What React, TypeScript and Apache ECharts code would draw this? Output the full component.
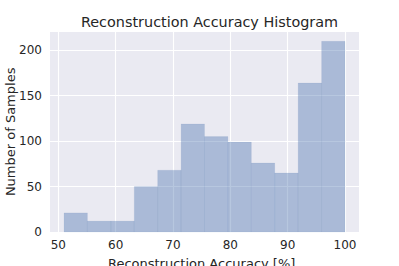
import React, { useEffect, useRef } from "react";
import * as echarts from "echarts";

const binEdges = [51, 55.08, 59.17, 63.25, 67.33, 71.42, 75.5, 79.58, 83.67, 87.75, 91.83, 95.92, 100];
const counts = [21, 12, 12, 50, 68, 119, 105, 99, 76, 65, 164, 210];
const xTicks = [50, 60, 70, 80, 90, 100];
const yTicks = [0, 50, 100, 150, 200];
const titleText = "Reconstruction Accuracy Histogram";
const xName = "Reconstruction Accuracy [%]";
const yName = "Number of Samples";

const FONT = "DejaVu Sans";
const TXT = "#262626";

export default function App() {
  const ref = useRef<HTMLDivElement>(null);
  useEffect(() => {
    if (!ref.current) return;
    const chart = echarts.init(ref.current, undefined, { renderer: "svg" });
    const data = counts.map((c, i) => [binEdges[i], binEdges[i + 1], c]);
    const yMax = 220.5;
    chart.setOption({
      animation: false,
      backgroundColor: "#ffffff",
      title: {
        text: titleText,
        left: 204.5,
        textAlign: "center",
        top: 10,
        textStyle: { fontFamily: FONT, fontSize: 14.4, fontWeight: "normal", color: TXT },
      },
      grid: [
        { left: 50, top: 31.7, width: 309, height: 200.3, show: true, backgroundColor: "#eaeaf2", borderWidth: 0, outerBoundsMode: "none", containLabel: false },
        { left: 58.3, top: 31.7, width: 286.7, height: 200.3, show: false, outerBoundsMode: "none", containLabel: false },
      ],
      xAxis: [
        { gridIndex: 0, type: "value", min: 0, max: 1, show: false },
        {
          gridIndex: 1,
          type: "value",
          min: xTicks[0],
          max: xTicks[xTicks.length - 1],
          interval: 10,
          axisLine: { show: false },
          axisTick: { show: false },
          splitLine: { show: true, lineStyle: { color: "#ffffff", width: 1.1 } },
          axisLabel: { margin: 7, fontFamily: FONT, fontSize: 12, color: TXT },
          name: xName,
          nameLocation: "middle",
          nameGap: 25,
          nameMoveOverlap: false,
          nameTextStyle: { fontFamily: FONT, fontSize: 13, color: TXT },
        },
      ],
      yAxis: [
        {
          gridIndex: 0,
          type: "value",
          min: yTicks[0],
          max: yMax,
          interval: 50,
          axisLine: { show: false },
          axisTick: { show: false },
          splitLine: { show: true, lineStyle: { color: "#ffffff", width: 1.1 } },
          axisLabel: { margin: 8, fontFamily: FONT, fontSize: 12, color: TXT, showMaxLabel: false },
          name: yName,
          nameLocation: "middle",
          nameGap: 33,
          nameMoveOverlap: false,
          nameTextStyle: { fontFamily: FONT, fontSize: 13, color: TXT },
        },
        { gridIndex: 1, type: "value", min: 0, max: yMax, show: false },
      ],
      series: [
        {
          type: "custom",
          xAxisIndex: 1,
          yAxisIndex: 1,
          encode: { x: [0, 1], y: 2 },
          data,
          renderItem: (_params: any, api: any) => {
            const p0 = api.coord([api.value(0), 0]);
            const p1 = api.coord([api.value(1), api.value(2)]);
            return {
              type: "rect",
              shape: { x: p0[0], y: p1[1], width: p1[0] - p0[0], height: p0[1] - p1[1] },
              style: { fill: "rgba(76,114,176,0.4)", stroke: "rgba(76,114,176,0.12)", lineWidth: 0.6 },
            };
          },
        },
      ],
    });
    return () => chart.dispose();
  }, []);
  return (
    <div
      ref={ref}
      style={{ position: "fixed", left: 0, top: 0, width: 399, height: 266 }}
    />
  );
}
